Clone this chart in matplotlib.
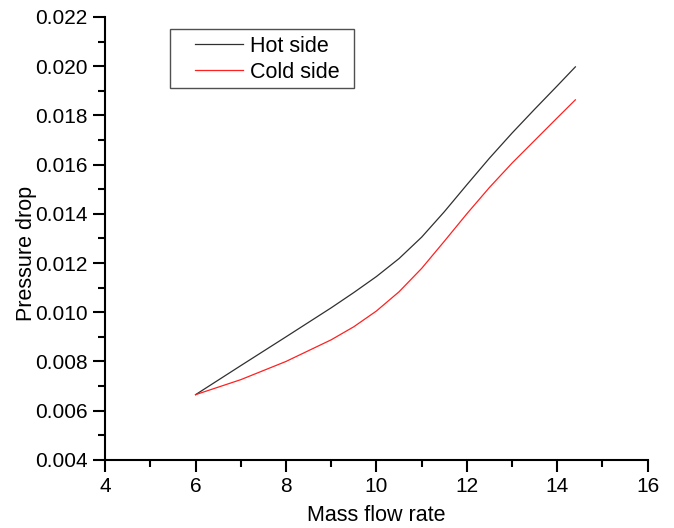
import matplotlib.pyplot as plt
from matplotlib.patches import Rectangle
from matplotlib.ticker import MultipleLocator

plt.rcParams['font.family'] = ['Liberation Sans', 'DejaVu Sans']

# Mass flow rate
flow = [6, 7, 8, 9, 9.5, 10, 10.5, 11, 11.5, 12, 12.5, 13, 13.5, 14, 14.4]
# Pressure drop
hot = [0.00665, 0.00783, 0.009, 0.01018, 0.0108, 0.01145, 0.01218,
       0.01305, 0.01408, 0.01518, 0.01626, 0.01728, 0.01825, 0.0192,
       0.01997]
cold = [0.00665, 0.00726, 0.008, 0.00888, 0.00941, 0.01005, 0.01083,
        0.01178, 0.01288, 0.014, 0.01507, 0.01606, 0.01698, 0.0179,
        0.01863]

fig = plt.figure(figsize=(6.74, 5.28), dpi=100)
ax = fig.add_axes([0.156, 0.129, 0.805, 0.839])

ax.plot(flow, hot, color='#303030', lw=0.9, label='Hot side')
ax.plot(flow, cold, color='#ff2020', lw=0.9, label='Cold side')

ax.set_xlim(4, 16)
ax.set_ylim(0.004, 0.022)
ax.xaxis.set_major_locator(MultipleLocator(2))
ax.xaxis.set_minor_locator(MultipleLocator(1))
ax.yaxis.set_major_locator(MultipleLocator(0.002))
ax.yaxis.set_minor_locator(MultipleLocator(0.001))
ax.yaxis.set_major_formatter(plt.FormatStrFormatter('%.3f'))

for s in ['top', 'right']:
    ax.spines[s].set_visible(False)
for s in ['left', 'bottom']:
    ax.spines[s].set_linewidth(1.5)

ax.tick_params(which='major', direction='out', length=8.5, width=1.5,
               labelsize=15, pad=4)
ax.tick_params(which='minor', direction='out', length=5, width=1.5)

ax.set_xlabel('Mass flow rate', fontsize=15.5, labelpad=6)
ax.set_ylabel('Pressure drop', fontsize=15.5)
ax.yaxis.set_label_coords(-0.125, 0.465)

# legend frame drawn separately (Origin style padding)
ax.add_patch(Rectangle((0.1197, 0.8397), 0.3389, 0.1332,
                       transform=ax.transAxes, fill=False,
                       edgecolor='#505050', lw=1.0, zorder=5))
leg = ax.legend(loc='upper left', bbox_to_anchor=(0.1657, 0.957),
                borderaxespad=0, borderpad=0, frameon=False,
                fontsize=15.5, handlelength=2.23, labelspacing=0.22,
                handletextpad=0.33)

fig.savefig('out.png', dpi=100)
